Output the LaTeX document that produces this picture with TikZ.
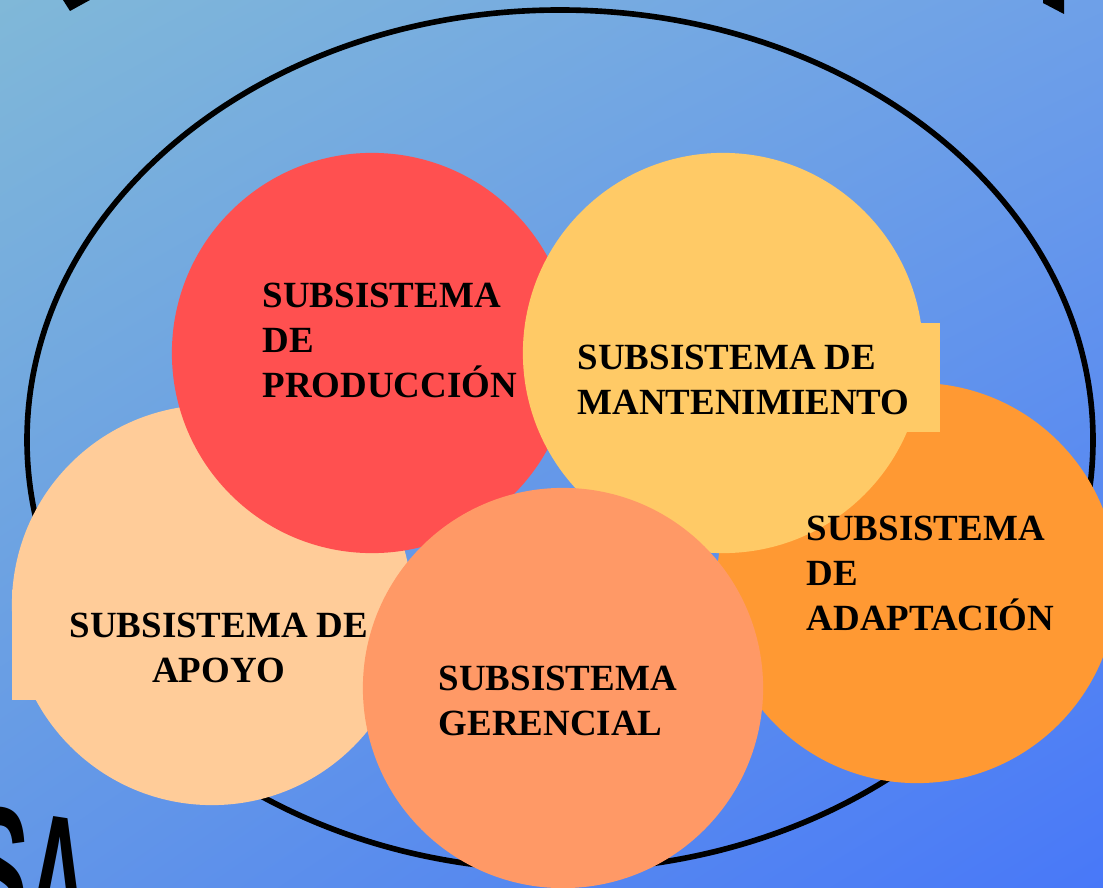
\documentclass[tikz,border=0pt]{standalone}
\usepackage{fontspec}
\setmainfont{Liberation Serif}
\newfontfamily\heavyfont{Liberation Sans}
\usetikzlibrary{shadings}

\definecolor{bgtl}{RGB}{128,184,216}
\definecolor{bgtr}{RGB}{110,160,232}
\definecolor{bgbl}{RGB}{98,150,232}
\definecolor{bgbr}{RGB}{72,120,248}
\definecolor{prodred}{HTML}{FF5050}
\definecolor{mantyellow}{HTML}{FFCA66}
\definecolor{adaptorange}{HTML}{FF9933}
\definecolor{apoyopeach}{HTML}{FFCC99}
\definecolor{gersalmon}{HTML}{FF9966}

\begin{document}
\begin{tikzpicture}[x=0.01cm, y=-0.01cm,
	disc/.style={circle, inner sep=0pt, minimum size=4cm},
	rotulo/.style={font=\bfseries\fontsize{10.5}{12.8}\selectfont, align=left, anchor=north west, inner sep=0pt}]
	\useasboundingbox (0,0) rectangle (1103,888);
	\shade[upper left=bgtl, upper right=bgtr, lower left=bgbl, lower right=bgbr] (0,0) rectangle (1103,888);

	% letters cut by the frame
	\fill (63,0) -- (90,0) -- (70,11) -- cycle;
	\fill (1043,0) -- (1064,0) -- (1064,14) -- (1043,3) -- cycle;
	\node[font=\heavyfont\bfseries\fontsize{52}{52}\selectfont, xscale=0.46, rotate=-4, anchor=base west, inner sep=0pt] (sa) at (-30,930) {SA};

	% the system
	\draw[line width=1.6pt] (560,440) ellipse (533 and 430);

	\node[disc, fill=apoyopeach] (apoyo) at (212,605) {};
	\fill[apoyopeach] (12,590) rectangle (380,700);
	\node[disc, fill=prodred] (prod) at (372,353) {};
	\node[disc, fill=adaptorange] (adapt) at (917,583) {};
	\node[disc, fill=mantyellow] (mant) at (723,353) {};
	\fill[mantyellow] (560,323) rectangle (940,432);
	\node[disc, fill=gersalmon] (ger) at (563,688) {};

	\node[rotulo] (tprod) at (262,282) {SUBSISTEMA\\DE\\PRODUCCIÓN};
	\node[rotulo] (tmant) at (577,344) {SUBSISTEMA DE\\MANTENIMIENTO};
	\node[rotulo] (tadapt) at (806,515) {SUBSISTEMA\\DE\\ADAPTACIÓN};
	\node[rotulo, align=center, anchor=north] (tapoyo) at (219,612) {SUBSISTEMA DE\\APOYO};
	\node[rotulo] (tger) at (438,665) {SUBSISTEMA\\GERENCIAL};
\end{tikzpicture}
\end{document}
